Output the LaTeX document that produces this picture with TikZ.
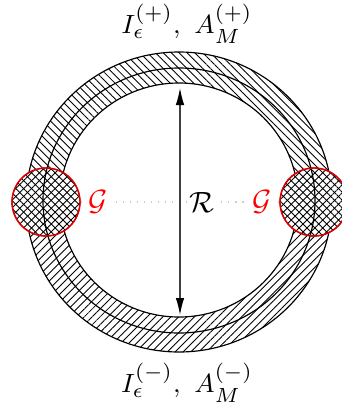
\documentclass[tikz,border=0pt]{standalone}
\usetikzlibrary{patterns.meta,arrows.meta}
\tikzset{
  px/.style={x=0.3413pt,y=-0.3413pt},
  ring/.style={line width=0.4pt,draw=black},
  nwhatch/.style={pattern={Lines[angle=-45,distance=1.9pt,line width=0.3pt]}},
  nehatch/.style={pattern={Lines[angle=45,distance=1.9pt,line width=0.3pt]}},
  gluebox/.style={circle,draw=red!85!black,line width=0.45pt,minimum size=23.2pt,inner sep=0pt},
  lab/.style={inner sep=1pt,fill=white},
  sidelab/.style={font=\fontsize{9.3}{11}\selectfont},
  >={Latex[length=5.8pt,width=2.9pt,black]},
}
\begin{document}
\begin{tikzpicture}[px]
\useasboundingbox (0,0) rectangle (341,409);
% upper half of the ring
\begin{scope}
  \clip (0,0) rectangle (341,202);
  \fill[nwhatch,even odd rule] (179,202) ellipse[x radius=153,y radius=150] (179,200) ellipse[x radius=119,y radius=117];
\end{scope}
% lower half of the ring
\begin{scope}
  \clip (0,202) rectangle (341,409);
  \fill[nehatch,even odd rule] (179,202) ellipse[x radius=153,y radius=150] (179,200) ellipse[x radius=119,y radius=117];
\end{scope}
\draw[ring] (179,202) ellipse[x radius=153,y radius=150];
\draw[ring] (179,200) ellipse[x radius=119,y radius=117];
% gluing regions
\node[gluebox,fill=white] (gl) at (46,202) {};
\node[gluebox,fill=white] (gr) at (314,202) {};
\fill[nwhatch] (gl.center) circle[radius=34];
\fill[nehatch] (gl.center) circle[radius=34];
\fill[nwhatch] (gr.center) circle[radius=34];
\fill[nehatch] (gr.center) circle[radius=34];
\draw[ring] (179,200.5) ellipse[x radius=136,y radius=132.5];
\node[gluebox] at (gl.center) {};
\node[gluebox] at (gr.center) {};
\draw[gray!40,dotted,line width=0.4pt] (gl.east) -- (gr.west);
% arrow
\coordinate (at) at (180,88);
\coordinate (ab) at (180,315);
\draw[line width=0.4pt,black!75,<->] (at) -- (ab);
% labels
\node[lab,text=red] (gll) at (98,202) {$\mathcal{G}$};
\node[lab,text=red] (grl) at (262,202) {$\mathcal{G}$};
\node[lab] (rl) at (202,202) {$\mathcal{R}$};
\node[sidelab] (top) at (187,24) {$I_\epsilon^{(+)},\ A_M^{(+)}$};
\node[sidelab] (bot) at (187,383) {$I_\epsilon^{(-)},\ A_M^{(-)}$};
\end{tikzpicture}
\end{document}
